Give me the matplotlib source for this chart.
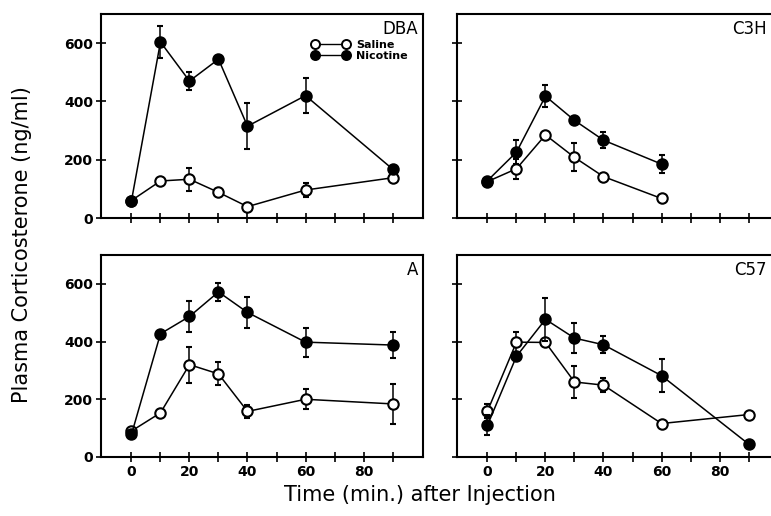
import numpy as np
import matplotlib
matplotlib.use("Agg")
import matplotlib.pyplot as plt
from matplotlib.lines import Line2D

# ---- data (ng/ml) ----
t_dba = [0, 10, 20, 30, 40, 60, 90]
dba_sal = [60, 127, 133, 88, 39, 96, 138]
dba_sal_err = [0, 0, 40, 0, 0, 25, 0]
dba_nic = [59, 604, 470, 545, 315, 420, 168]
dba_nic_err = [0, 55, 30, 0, 78, 60, 0]

t_c3h = [0, 10, 20, 30, 40, 60]
c3h_sal = [125, 169, 285, 208, 142, 67]
c3h_sal_err = [0, 35, 0, 48, 0, 0]
c3h_nic = [128, 226, 418, 335, 267, 185]
c3h_nic_err = [0, 40, 37, 0, 28, 30]

t_a = [0, 10, 20, 30, 40, 60, 90]
a_sal = [90, 153, 320, 288, 158, 200, 184]
a_sal_err = [0, 0, 62, 40, 22, 35, 70]
a_nic = [78, 427, 487, 572, 501, 398, 388]
a_nic_err = [0, 0, 55, 30, 55, 50, 45]

t_c57 = [0, 10, 20, 30, 40, 60, 90]
c57_sal = [159, 398, 397, 260, 249, 116, 147]
c57_sal_err = [25, 35, 0, 55, 25, 0, 0]
c57_nic = [110, 349, 477, 412, 389, 282, 45]
c57_nic_err = [35, 0, 75, 52, 30, 58, 0]

W, H = 771, 516
fig = plt.figure(figsize=(W / 100, H / 100), dpi=100)


def px_axes(l, t, r, b):
    return fig.add_axes([l / W, 1 - b / H, (r - l) / W, (b - t) / H])


def draw_panel(ax, t, sal, sal_err, nic, nic_err, name, ylabels, xlabels, name_dx):
    ax.errorbar(t, sal, yerr=sal_err, color='black', lw=1.1, marker='o',
                ms=7.5, mfc='white', mec='black', mew=1.5,
                elinewidth=1.1, capsize=2, capthick=1.1, zorder=3)
    ax.errorbar(t, nic, yerr=nic_err, color='black', lw=1.1, marker='o',
                ms=7.5, mfc='black', mec='black', mew=1.5,
                elinewidth=1.1, capsize=2, capthick=1.1, zorder=4)
    ax.set_xlim(-10.5, 100.5)
    ax.set_ylim(0, 700)
    ax.set_xticks([0, 20, 40, 60, 80])
    ax.set_xticks([10, 30, 50, 70, 90], minor=True)
    ax.set_yticks([0, 200, 400, 600])
    ax.tick_params(which='both', direction='inout', length=7, width=1.2)
    ax.tick_params(labelsize=10, pad=2)
    for lab in ax.get_xticklabels() + ax.get_yticklabels():
        lab.set_fontweight('bold')
    if not ylabels:
        ax.set_yticklabels([])
    if not xlabels:
        ax.set_xticklabels([])
    for s in ax.spines.values():
        s.set_linewidth(1.5)
    ax.text(1.0 - name_dx / 322, 1.0 - 6 / 204, name, transform=ax.transAxes,
            ha='right', va='top', fontsize=12)


ax1 = px_axes(101, 14, 423, 218)
ax2 = px_axes(457, 14, 779, 218)
ax3 = px_axes(101, 255, 423, 457)
ax4 = px_axes(457, 255, 779, 457)

draw_panel(ax1, t_dba, dba_sal, dba_sal_err, dba_nic, dba_nic_err, "DBA", True, False, 5)
draw_panel(ax2, t_c3h, c3h_sal, c3h_sal_err, c3h_nic, c3h_nic_err, "C3H", False, False, 12)
draw_panel(ax3, t_a, a_sal, a_sal_err, a_nic, a_nic_err, "A", True, True, 5)
draw_panel(ax4, t_c57, c57_sal, c57_sal_err, c57_nic, c57_nic_err, "C57", False, True, 12)

handles = [
    Line2D([], [], color='black', lw=1, marker='o', ms=6.5, mfc='white', mec='black', mew=1.4),
    Line2D([], [], color='black', lw=1, marker='o', ms=6.5, mfc='black', mec='black', mew=1.4),
]
ax1.legend(handles, ["Saline", "Nicotine"], loc='upper left',
           bbox_to_anchor=(0.655, 0.875), frameon=False, numpoints=2,
           handlelength=3.4, handletextpad=0.6, labelspacing=0.1,
           borderpad=0, borderaxespad=0, prop={'size': 8, 'weight': 'bold'})

fig.text(420 / W, 1 - 495 / H, "Time (min.) after Injection", ha='center', va='center', fontsize=15)
fig.text(22 / W, 1 - 245 / H, "Plasma Corticosterone (ng/ml)", ha='center', va='center',
         rotation=90, fontsize=15)

fig.savefig("out.png", dpi=100)
